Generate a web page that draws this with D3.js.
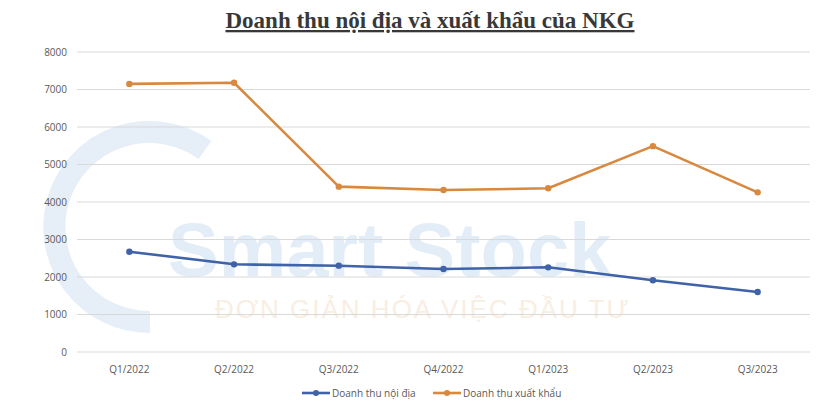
<!DOCTYPE html>
<html><head><meta charset="utf-8">
<script src="https://cdn.jsdelivr.net/npm/d3@7"></script>
<style>body{margin:0;background:#fff}svg{display:block}</style>
</head><body>
<svg id="c" width="836" height="417"></svg>
<script>
const categories = ["Q1/2022","Q2/2022","Q3/2022","Q4/2022","Q1/2023","Q2/2023","Q3/2023"];
const domestic = [2675, 2338, 2302, 2213, 2258, 1912, 1600];
const exportRev = [7150, 7180, 4410, 4320, 4365, 5490, 4258];
const yTicks = [0,1000,2000,3000,4000,5000,6000,7000,8000];
const seriesNames = ["Doanh thu nội địa","Doanh thu xuất khẩu"];
const colors = ["#3F62A8","#D8893F"];

const svg = d3.select("#c");
const m = {left:77, right:26, top:52, bottom:65};
const W = 836, H = 417;
const x = d3.scaleBand().domain(categories).range([m.left, W-m.right]);
const y = d3.scaleLinear().domain([0,8000]).range([H-m.bottom, m.top]);

// watermark
const wm = svg.append("g").attr("opacity",0.6);
wm.append("path").attr("d","M 205 150 A 95 95 0 1 0 150 322").attr("fill","none").attr("stroke","#d7e4f3").attr("stroke-width",22);
wm.append("text").attr("x",168).attr("y",276).attr("font-family","Liberation Sans, Arial").attr("font-weight","bold").attr("font-size",76).attr("fill","#d2e2f3").text("Smart Stock");
wm.append("text").attr("x",215).attr("y",318).attr("font-family","Liberation Sans, Arial").attr("font-size",26).attr("fill","#f6e3cf").attr("letter-spacing",2).text("ĐƠN GIẢN HÓA VIỆC ĐẦU TƯ");

// grid
svg.append("g").selectAll("line").data(yTicks).join("line")
  .attr("x1",m.left).attr("x2",W-m.right)
  .attr("y1",d=>y(d)).attr("y2",d=>y(d))
  .attr("stroke","#d9d9d9").attr("stroke-width",1);

// y axis labels
const yAxis = d3.axisLeft(y).tickValues(yTicks).tickFormat(d3.format("d")).tickSize(0).tickPadding(10);
const ga = svg.append("g").attr("transform",`translate(${m.left},0)`).call(yAxis);
ga.select(".domain").remove();
ga.selectAll("text").attr("font-family","Open Sans, Liberation Sans").attr("font-size",10).attr("fill","#595959");

// x axis labels
const xAxis = d3.axisBottom(x).tickSize(0).tickPadding(14);
const gx = svg.append("g").attr("transform",`translate(0,${y(0)})`).call(xAxis);
gx.select(".domain").remove();
gx.selectAll("text").attr("font-family","Open Sans, Liberation Sans").attr("font-size",10).attr("fill","#595959");

const cx = d => x(d)+x.bandwidth()/2;
const line = d3.line().x((d,i)=>cx(categories[i])).y(d=>y(d));
[domestic, exportRev].forEach((s,k)=>{
  svg.append("path").datum(s).attr("d",line).attr("fill","none")
    .attr("stroke",colors[k]).attr("stroke-width",2.6).attr("stroke-linejoin","round");
  svg.append("g").selectAll("circle").data(s).join("circle")
    .attr("cx",(d,i)=>cx(categories[i])).attr("cy",d=>y(d)).attr("r",3.2).attr("fill",colors[k]);
});

// title
svg.append("text").attr("x",430).attr("y",28).attr("text-anchor","middle")
  .attr("font-family","Liberation Serif, Times New Roman").attr("font-weight","bold").attr("font-size",23)
  .attr("fill","#383838").attr("text-decoration","underline").text("Doanh thu nội địa và xuất khẩu của NKG");

// legend
const legX = [302, 433];
seriesNames.forEach((n,k)=>{
  const g = svg.append("g").attr("transform",`translate(${legX[k]},${393})`);
  g.append("line").attr("x1",0).attr("x2",28).attr("y1",0).attr("y2",0).attr("stroke",colors[k]).attr("stroke-width",2.6);
  g.append("circle").attr("cx",14).attr("cy",0).attr("r",3).attr("fill",colors[k]);
  g.append("text").attr("x",30).attr("y",3.5).attr("font-family","Open Sans, Liberation Sans").attr("font-size",10).attr("fill","#595959").text(n);
});
</script>
</body></html>
